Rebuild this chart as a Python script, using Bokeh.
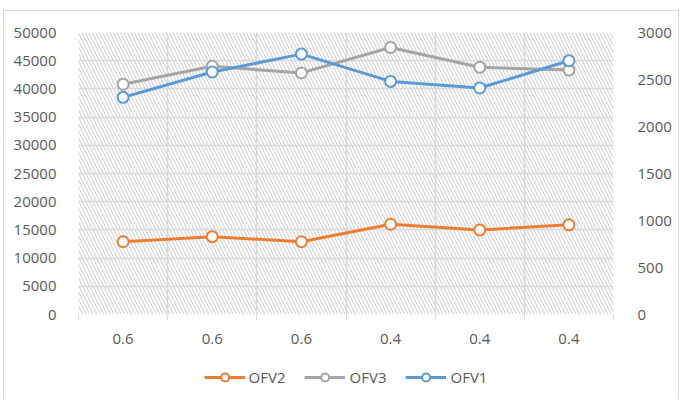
from bokeh.plotting import figure
from bokeh.layouts import column
from bokeh.models import (LinearAxis, Range1d, FixedTicker, BoxAnnotation,
                          Legend, LegendItem)
from bokeh.embed import file_html
from bokeh.resources import INLINE

# Data
categories = ["0.6", "0.6", "0.6", "0.4", "0.4", "0.4"]
ofv2 = [12900, 13800, 12900, 16000, 15000, 15900]   # left axis
ofv3 = [2450, 2640, 2570, 2840, 2630, 2600]         # right axis
ofv1 = [2310, 2580, 2770, 2480, 2410, 2700]         # right axis
left_ticks = list(range(0, 50001, 5000))
right_ticks = list(range(0, 3001, 500))

FONT = "Open Sans"
TEXT = "#595959"
GRID = "#d9d9d9"
W = 686

xs = list(range(len(categories)))
centers = xs
bounds = [i - 0.5 for i in range(len(categories) + 1)]

series = [("OFV2", ofv2, "#ED7D31", "default"),
          ("OFV3", ofv3, "#A5A5A5", "right"),
          ("OFV1", ofv1, "#5B9BD5", "right")]


def frame_lines(top):
    """Thin light chart border painted behind the transparent canvas."""
    g = "linear-gradient(#d9d9d9,#d9d9d9)"
    parts = [f"{g} 3px {top}px / 1px 100% no-repeat",
             f"{g} 678px {top}px / 1px 100% no-repeat"]
    if top:
        parts.append(f"{g} 3px {top}px / 676px 1px no-repeat")
    return {"background": ", ".join(parts)}


# ---- main chart ----
p = figure(width=W, height=355, output_backend="svg", toolbar_location=None,
           x_range=Range1d(-0.5, len(categories) - 0.5),
           y_range=Range1d(0, 50000),
           min_border_left=78, min_border_right=73,
           min_border_top=32, min_border_bottom=41)
p.outline_line_color = None
p.background_fill_color = "white"
p.border_fill_alpha = 0
p.styles = frame_lines(10)
p.extra_y_ranges = {"right": Range1d(0, 3000)}

# hatched plot area
p.add_layout(BoxAnnotation(fill_alpha=0, line_color=None, level="image",
                           hatch_pattern="\\", hatch_color="#d6d6d6",
                           hatch_scale=7, hatch_weight=1.2))

# x axis: labels at category centres, ticks and grid at boundaries
xa = p.xaxis[0]
xa.ticker = FixedTicker(ticks=centers, minor_ticks=bounds)
xa.major_label_overrides = {i: c for i, c in enumerate(categories)}
xa.major_tick_out = 0
xa.major_tick_in = 0
xa.minor_tick_out = 6
xa.minor_tick_in = 0
xa.minor_tick_line_color = GRID
xa.axis_line_color = None
xa.major_label_standoff = 13
p.xgrid.grid_line_color = None
p.xgrid.minor_grid_line_color = GRID
p.xgrid.minor_grid_line_width = 1.5

# left axis
ya = p.yaxis[0]
ya.ticker = FixedTicker(ticks=left_ticks)
ya.minor_tick_line_color = None
ya.major_tick_line_color = None
ya.axis_line_color = None
ya.major_label_standoff = 16
p.ygrid.grid_line_color = GRID
p.ygrid.grid_line_width = 1.5
p.ygrid.ticker = FixedTicker(ticks=left_ticks)

# right axis
ra = LinearAxis(y_range_name="right", ticker=FixedTicker(ticks=right_ticks))
ra.minor_tick_line_color = None
ra.major_tick_line_color = None
ra.axis_line_color = None
ra.major_label_standoff = 18
p.add_layout(ra, "right")

for ax in (xa, ya, ra):
    ax.major_label_text_font = FONT
    ax.major_label_text_font_size = "15px"
    ax.major_label_text_color = TEXT

for name, vals, color, rng in series:
    p.line(xs, vals, line_color=color, line_width=3, y_range_name=rng)
    p.scatter(xs, vals, marker="circle", size=11, fill_color="white",
              line_color=color, line_width=2, y_range_name=rng)

# ---- legend strip ----
q = figure(width=W, height=44, output_backend="svg", toolbar_location=None,
           x_range=Range1d(0, 1), y_range=Range1d(0, 1),
           min_border_left=0, min_border_right=0,
           min_border_top=0, min_border_bottom=0)
q.axis.visible = False
q.grid.visible = False
q.outline_line_color = None
q.background_fill_alpha = 0
q.border_fill_alpha = 0
q.styles = frame_lines(0)

# legend swatches: renderers hold a single point outside the visible range
items = []
for name, vals, color, rng in series:
    ln = q.line([0.5, 0.6], [5, 5], line_color=color, line_width=3)
    mk = q.scatter([0.5], [5], marker="circle", size=11, fill_color="white",
                   line_color=color, line_width=2)
    items.append(LegendItem(label=name, renderers=[ln, mk]))

legend = Legend(items=items, orientation="horizontal", location="center",
                glyph_width=41, glyph_height=20, label_height=20,
                label_standoff=4, spacing=19,
                padding=0, margin=0, border_line_color=None,
                background_fill_alpha=0,
                label_text_font=FONT, label_text_font_size="15px",
                label_text_color=TEXT)
q.add_layout(legend, "center")

layout = column(p, q, spacing=0)
open("out.html", "w").write(file_html(layout, INLINE))
